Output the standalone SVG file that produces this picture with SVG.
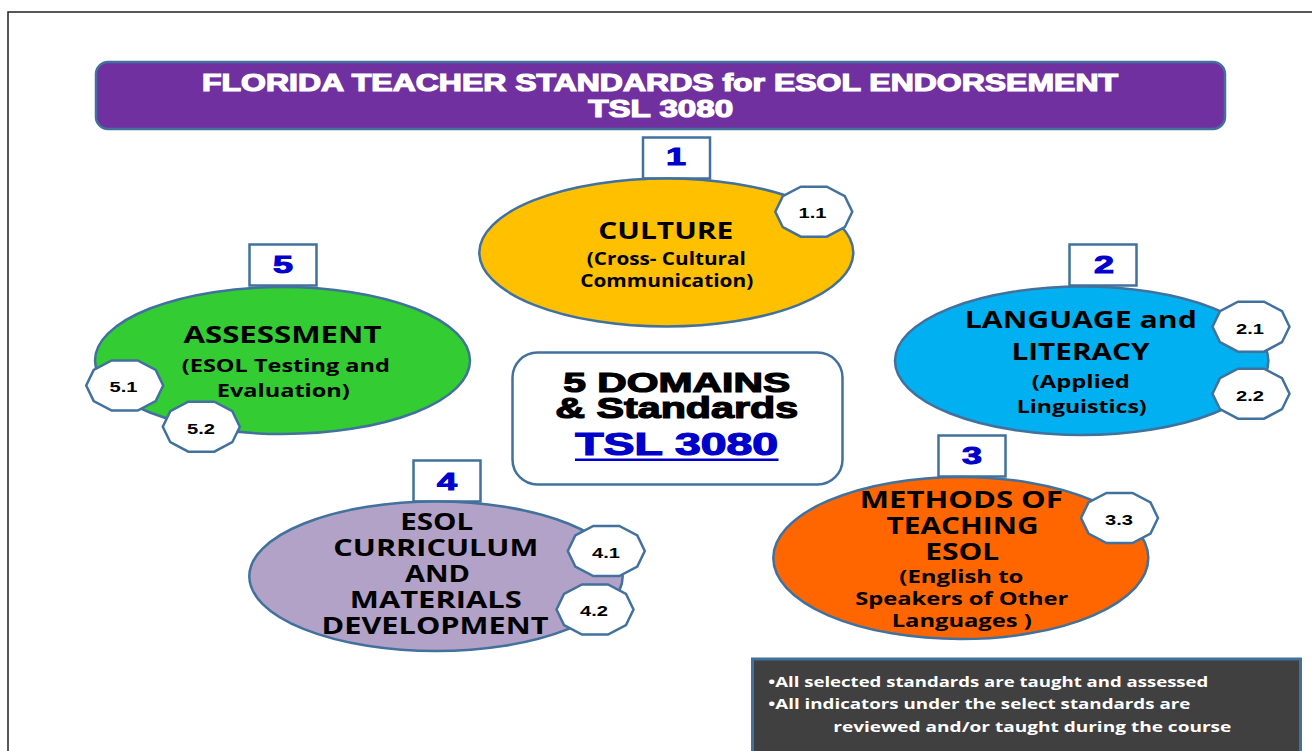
<svg xmlns="http://www.w3.org/2000/svg" xmlns:xlink="http://www.w3.org/1999/xlink" width="1312" height="751" viewBox="0 0 1312 751">
<style>
.edge{stroke:#41719C;stroke-width:2.5}
.title{font-family:"Liberation Sans",Arial,sans-serif;font-weight:bold;font-size:23.5px;fill:#fff;stroke:#fff;stroke-width:1.2;text-anchor:middle}
.num{font-family:"Liberation Sans",Arial,sans-serif;font-weight:bold;font-size:24px;fill:#0000CC;stroke:#0000CC;stroke-width:1;text-anchor:middle}
.head{font-family:"Open Sans","Liberation Sans",sans-serif;font-weight:bold;font-size:22.5px;fill:#000;text-anchor:middle}
.sub{font-family:"Open Sans","Liberation Sans",sans-serif;font-weight:bold;font-size:18px;fill:#000;text-anchor:middle}
.lbl{font-family:"Liberation Sans",Arial,sans-serif;font-weight:bold;font-size:15.5px;fill:#000;text-anchor:middle}
.big{font-family:"Liberation Sans",Arial,sans-serif;font-weight:bold;fill:#000;stroke:#000;stroke-width:1.2;text-anchor:middle}
.note{font-family:"Open Sans","Liberation Sans",sans-serif;font-weight:bold;font-size:15px;fill:#fff}
</style>
<defs>
<polygon id="deca" points="38.5,0 31,15.5 13,25 -13,25 -31,15.5 -38.5,0 -31,-15.5 -13,-25 13,-25 31,-15.5" fill="#fff" stroke="#41719C" stroke-width="2.5"/>
</defs>
<rect x="0" y="0" width="1312" height="751" fill="#fff"/>
<rect x="8" y="12" width="1330" height="760" fill="none" stroke="#222" stroke-width="1.5"/>

<g id="connectors"></g>

<g id="title">
<rect x="96" y="62" width="1129" height="67" rx="12" fill="#7030A0" class="edge"/>
<text class="title" x="660" y="90.5" textLength="916" lengthAdjust="spacingAndGlyphs">FLORIDA TEACHER STANDARDS for ESOL ENDORSEMENT</text>
<text class="title" x="660.7" y="116.7" textLength="145" lengthAdjust="spacingAndGlyphs">TSL 3080</text>
</g>

<g id="domain1">
<rect x="643" y="137.5" width="67" height="41" fill="#fff" class="edge"/>
<text class="num" x="676" y="165" textLength="20" lengthAdjust="spacingAndGlyphs">1</text>
<ellipse cx="666.3" cy="252.5" rx="187" ry="74" fill="#FFC000" class="edge"/>
<text class="head" x="665.8" y="239" textLength="135" lengthAdjust="spacingAndGlyphs">CULTURE</text>
<text class="sub" x="666.3" y="265" textLength="159" lengthAdjust="spacingAndGlyphs">(Cross- Cultural</text>
<text class="sub" x="666.7" y="287.3" textLength="173" lengthAdjust="spacingAndGlyphs">Communication)</text>
<use xlink:href="#deca" href="#deca" x="813.8" y="211.7"/>
<text class="lbl" x="812.5" y="217.5" textLength="28" lengthAdjust="spacingAndGlyphs">1.1</text>
</g>

<g id="domain5">
<rect x="249.5" y="244.5" width="67" height="41" fill="#fff" class="edge"/>
<text class="num" x="283" y="273" textLength="20" lengthAdjust="spacingAndGlyphs">5</text>
<ellipse cx="282.5" cy="360.5" rx="187.5" ry="73.5" fill="#33CC33" class="edge"/>
<text class="head" x="282.5" y="343.3" textLength="198" lengthAdjust="spacingAndGlyphs">ASSESSMENT</text>
<text class="sub" x="285.8" y="371.7" textLength="208" lengthAdjust="spacingAndGlyphs">(ESOL Testing and</text>
<text class="sub" x="283.3" y="396.7" textLength="133" lengthAdjust="spacingAndGlyphs">Evaluation)</text>
<use xlink:href="#deca" href="#deca" x="124.7" y="385.5"/>
<text class="lbl" x="123.5" y="391.5" textLength="28" lengthAdjust="spacingAndGlyphs">5.1</text>
<use xlink:href="#deca" href="#deca" x="201.3" y="426.7"/>
<text class="lbl" x="201" y="433.5" textLength="28" lengthAdjust="spacingAndGlyphs">5.2</text>
</g>

<g id="domain2">
<rect x="1069.5" y="244.5" width="67" height="41" fill="#fff" class="edge"/>
<text class="num" x="1104" y="273.3" textLength="20" lengthAdjust="spacingAndGlyphs">2</text>
<ellipse cx="1081.7" cy="360.8" rx="186.7" ry="74.2" fill="#00B0F0" class="edge"/>
<text class="head" x="1080.8" y="328.3" textLength="232" lengthAdjust="spacingAndGlyphs">LANGUAGE and</text>
<text class="head" x="1080.5" y="360" textLength="138" lengthAdjust="spacingAndGlyphs">LITERACY</text>
<text class="sub" x="1080.8" y="388.3" textLength="98" lengthAdjust="spacingAndGlyphs">(Applied</text>
<text class="sub" x="1081.7" y="413.3" textLength="130" lengthAdjust="spacingAndGlyphs">Linguistics)</text>
<use xlink:href="#deca" href="#deca" x="1251" y="326.7"/>
<text class="lbl" x="1250" y="334" textLength="28" lengthAdjust="spacingAndGlyphs">2.1</text>
<use xlink:href="#deca" href="#deca" x="1251" y="393.7"/>
<text class="lbl" x="1250" y="400.7" textLength="28" lengthAdjust="spacingAndGlyphs">2.2</text>
</g>

<g id="center">
<rect x="512.5" y="352.5" width="330" height="132" rx="25" fill="#fff" class="edge"/>
<text class="big" x="676.7" y="392" font-size="28" textLength="227" lengthAdjust="spacingAndGlyphs">5 DOMAINS</text>
<text class="big" x="676.7" y="418" font-size="29" textLength="243" lengthAdjust="spacingAndGlyphs">&amp; Standards</text>
<text class="big" x="676.7" y="455" font-size="31" style="fill:#0000CC;stroke:#0000CC" textLength="203" lengthAdjust="spacingAndGlyphs">TSL 3080</text>
<line x1="575" y1="459.8" x2="778.5" y2="459.8" stroke="#0000CC" stroke-width="2.5"/>
</g>

<g id="domain3">
<rect x="938.5" y="435.5" width="67" height="41" fill="#fff" class="edge"/>
<text class="num" x="972" y="464.3" textLength="20" lengthAdjust="spacingAndGlyphs">3</text>
<ellipse cx="960.8" cy="558" rx="187.5" ry="81" fill="#FF6600" class="edge"/>
<text class="head" x="961.3" y="508.3" textLength="203" lengthAdjust="spacingAndGlyphs">METHODS OF</text>
<text class="head" x="962.5" y="534" textLength="152" lengthAdjust="spacingAndGlyphs">TEACHING</text>
<text class="head" x="962.2" y="560" textLength="74" lengthAdjust="spacingAndGlyphs">ESOL</text>
<text class="sub" x="961.3" y="583.3" textLength="124" lengthAdjust="spacingAndGlyphs">(English to</text>
<text class="sub" x="961.7" y="605" textLength="213" lengthAdjust="spacingAndGlyphs">Speakers of Other</text>
<text class="sub" x="961.7" y="626.7" textLength="140" lengthAdjust="spacingAndGlyphs">Languages )</text>
<use xlink:href="#deca" href="#deca" x="1119.5" y="518"/>
<text class="lbl" x="1119" y="525" textLength="28" lengthAdjust="spacingAndGlyphs">3.3</text>
</g>

<g id="domain4">
<rect x="413.5" y="460.5" width="67" height="41" fill="#fff" class="edge"/>
<text class="num" x="447" y="490" textLength="20" lengthAdjust="spacingAndGlyphs">4</text>
<ellipse cx="436" cy="576.3" rx="186.7" ry="74.7" fill="#B3A2C7" class="edge"/>
<text class="head" x="436.7" y="530" textLength="73" lengthAdjust="spacingAndGlyphs">ESOL</text>
<text class="head" x="435.8" y="556" textLength="205" lengthAdjust="spacingAndGlyphs">CURRICULUM</text>
<text class="head" x="437.5" y="581.7" textLength="65" lengthAdjust="spacingAndGlyphs">AND</text>
<text class="head" x="435.8" y="608.3" textLength="172" lengthAdjust="spacingAndGlyphs">MATERIALS</text>
<text class="head" x="435" y="634.3" textLength="227" lengthAdjust="spacingAndGlyphs">DEVELOPMENT</text>
<use xlink:href="#deca" href="#deca" x="606.3" y="551"/>
<text class="lbl" x="606" y="558.3" textLength="28" lengthAdjust="spacingAndGlyphs">4.1</text>
<use xlink:href="#deca" href="#deca" x="595" y="609.5"/>
<text class="lbl" x="594" y="616" textLength="28" lengthAdjust="spacingAndGlyphs">4.2</text>
</g>

<g id="note">
<rect x="752.5" y="659" width="548" height="100" fill="#404040" stroke="#41719C" stroke-width="3"/>
<text class="note" x="768.3" y="686.7" textLength="440" lengthAdjust="spacingAndGlyphs">•All selected standards are taught and assessed</text>
<text class="note" x="768.3" y="709.3" textLength="422" lengthAdjust="spacingAndGlyphs">•All indicators under the select standards are</text>
<text class="note" x="833.3" y="731.7" textLength="398" lengthAdjust="spacingAndGlyphs">reviewed and/or taught during the course</text>
</g>
</svg>
